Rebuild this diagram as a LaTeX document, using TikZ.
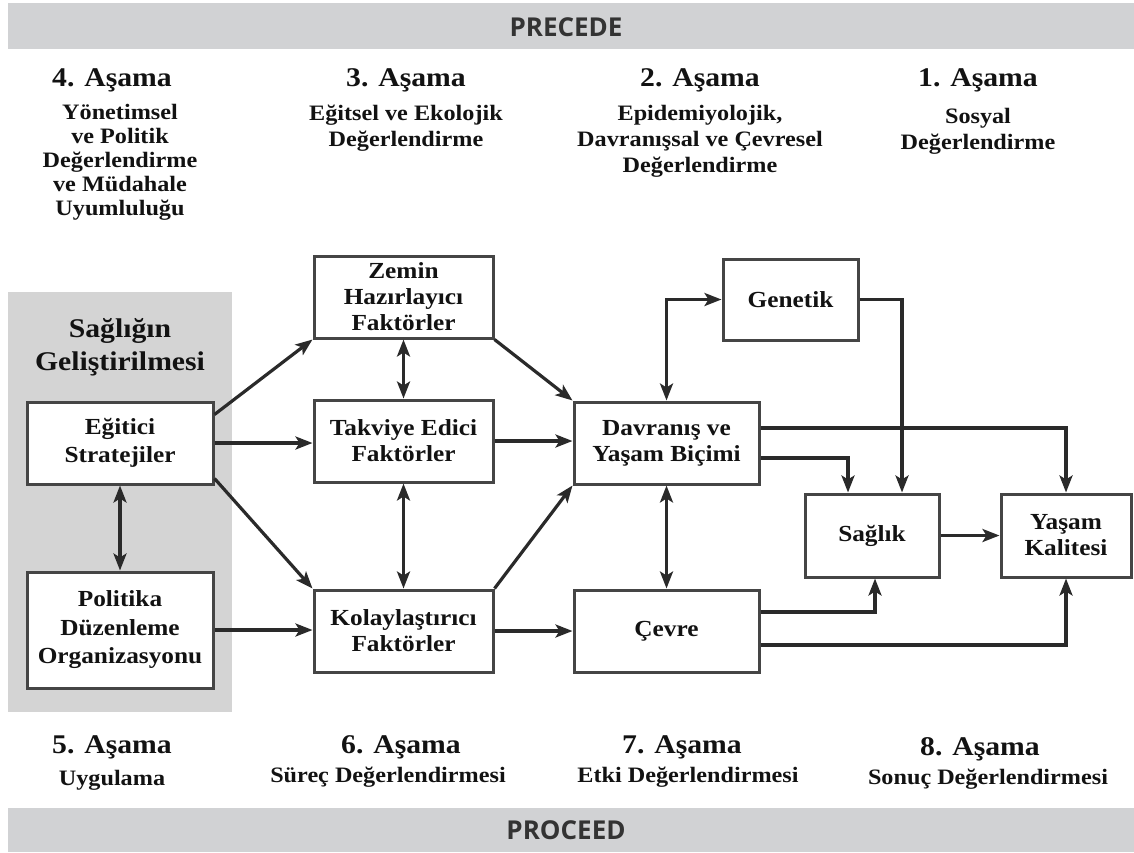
\documentclass[tikz,border=0pt]{standalone}
\usepackage{fontspec}
\setmainfont{Liberation Serif}[FakeStretch=1.1]
\newfontfamily\barfont{Open Sans}
\usetikzlibrary{arrows.meta}
\definecolor{barc}{HTML}{D1D2D4}
\definecolor{panelc}{HTML}{D4D4D4}
\definecolor{linec}{HTML}{2A2A2A}
\definecolor{boxc}{HTML}{454545}
\definecolor{txtc}{HTML}{121212}
\definecolor{bartxt}{HTML}{333333}
\tikzset{
  tip/.tip={Stealth[length=17pt,width=13pt,inset=4pt]},
  box/.style={draw=boxc, line width=3pt, fill=white, align=center, inner sep=0pt,
    font=\fontsize{23}{26}\selectfont\bfseries, text=txtc},
  conn/.style={draw=linec, line width=3.2pt, -tip},
  bconn/.style={draw=linec, line width=3.2pt, tip-tip},
  head/.style={font=\fontsize{27}{30}\selectfont\bfseries, text=txtc, inner sep=0pt},
  sub/.style={font=\fontsize{22}{26}\selectfont\bfseries, text=txtc, align=center, inner sep=0pt},
  bartext/.style={font=\barfont\fontsize{26}{30}\selectfont\bfseries, text=bartxt, inner sep=0pt}
}
\begin{document}
\begin{tikzpicture}[x=1pt,y=-1pt]
\useasboundingbox (0,0) rectangle (1134,852);
% bars and panel
\fill[barc] (8,3) rectangle (1134,49);
\fill[barc] (8,808) rectangle (1134,852);
\fill[panelc] (8,292) rectangle (232,712);
\node[bartext] (precede) at (566,27) {PRECEDE};
\node[bartext] (proceed) at (566,830) {PROCEED};
% top headings
\node[head] (h4) at (112,80) {4. Aşama};
\node[head] (h3) at (406,80) {3. Aşama};
\node[head] (h2) at (700,80) {2. Aşama};
\node[head] (h1) at (978,80) {1. Aşama};
\node[sub,anchor=north,font=\fontsize{22}{24}\selectfont\bfseries] (s4) at (120,104) {Yönetimsel\\ve Politik\\Değerlendirme\\ve Müdahale\\Uyumluluğu};
\node[sub,anchor=north] (s3) at (406,105) {Eğitsel ve Ekolojik\\Değerlendirme};
\node[sub,anchor=north] (s2) at (700,105) {Epidemiyolojik,\\Davranışsal ve Çevresel\\Değerlendirme};
\node[sub,anchor=north] (s1) at (978,108) {Sosyal\\Değerlendirme};
% bottom headings
\node[head] (h5) at (112,747) {5. Aşama};
\node[head] (h6) at (401,747) {6. Aşama};
\node[head] (h7) at (682,747) {7. Aşama};
\node[head] (h8) at (980,749) {8. Aşama};
\node[sub] (s5) at (112,780) {Uygulama};
\node[sub] (s6) at (388,777) {Süreç Değerlendirmesi};
\node[sub] (s7) at (688,777) {Etki Değerlendirmesi};
\node[sub] (s8) at (988,779) {Sonuç Değerlendirmesi};
% panel title
\node[font=\fontsize{27}{33}\selectfont\bfseries, text=txtc, align=center, inner sep=0pt] (panelt) at (120,347) {Sağlığın\\Geliştirilmesi};
% boxes
\node[box, minimum width=186pt, minimum height=82pt, font=\fontsize{23}{28}\selectfont\bfseries] (eg) at (120,443) {Eğitici\\Stratejiler};
\node[box, minimum width=186pt, minimum height=116pt, font=\fontsize{23}{28.5}\selectfont\bfseries] (pol) at (120,630) {Politika\\Düzenleme\\Organizasyonu};
\node[box, minimum width=179pt, minimum height=82pt] (zem) at (403.5,297) {Zemin\\Hazırlayıcı\\Faktörler};
\node[box, minimum width=179pt, minimum height=82pt] (tak) at (403.5,441) {Takviye Edici\\Faktörler};
\node[box, minimum width=179pt, minimum height=82pt] (kol) at (403.5,631) {Kolaylaştırıcı\\Faktörler};
\node[box, minimum width=185pt, minimum height=82pt] (dav) at (666.5,443) {Davranış ve\\Yaşam Biçimi};
\node[box, minimum width=185pt, minimum height=82pt] (cev) at (666.5,631) {Çevre};
\node[box, minimum width=135pt, minimum height=81pt] (gen) at (790.5,299.5) {Genetik};
\node[box, minimum width=134pt, minimum height=83pt] (sag) at (872,535.5) {Sağlık};
\node[box, minimum width=130pt, minimum height=83pt] (yas) at (1066,535.5) {Yaşam\\Kalitesi};
% connectors
\draw[conn] ([yshift=-14pt]eg.north east) -- (zem.south west);
\draw[conn] (eg.east) -- (tak.west |- eg.east);
\draw[conn] ([yshift=7pt]eg.south east) -- (kol.north west);
\draw[conn] (pol.east) -- (kol.west |- pol.east);
\draw[bconn] (eg.south) -- (pol.north);
\draw[bconn] (zem.south) -- (tak.north);
\draw[bconn] (tak.south) -- (kol.north);
\draw[conn] (zem.south east) -- (dav.north west);
\draw[conn] (tak.east) -- (dav.west |- tak.east);
\draw[conn] (kol.north east) -- (dav.south west);
\draw[conn] (kol.east) -- (cev.west |- kol.east);
\draw[bconn] (gen.west) -| (dav.north);
\draw[bconn] (dav.south) -- (cev.north);
\draw[conn] (gen.east) -| ([xshift=30pt]sag.north);
\draw[conn] ([yshift=15pt]dav.east) -| (yas.north);
\draw[conn] ([yshift=-15pt]dav.east) -| ([xshift=-24pt]sag.north);
\draw[conn] (sag.east) -- (yas.west);
\draw[conn] ([yshift=19pt]cev.east) -| ([xshift=3pt]sag.south);
\draw[conn] ([yshift=-14pt]cev.east) -| (yas.south);
\end{tikzpicture}
\end{document}
